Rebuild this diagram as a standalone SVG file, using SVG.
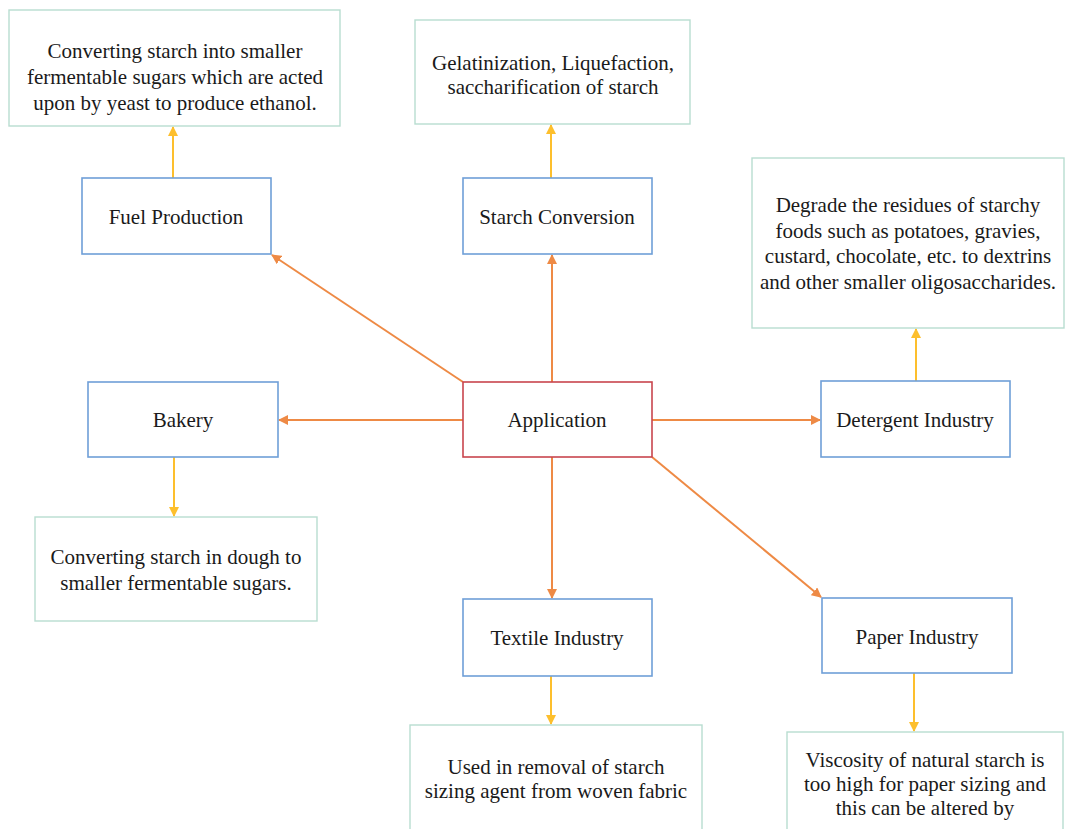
<svg xmlns="http://www.w3.org/2000/svg" width="1066" height="829" viewBox="0 0 1066 829">
<defs>
<style>
text{font-family:"Liberation Serif","Times New Roman",serif;font-size:21px;fill:#1a1a1a;text-anchor:middle}
.node{fill:#fff;stroke:#6f9fd8;stroke-width:1.6}
.app{fill:#fff;stroke:#c9454e;stroke-width:1.6}
.desc{fill:#fff;stroke:#b8ddd0;stroke-width:1.4}
.or{stroke:#ee8a45;stroke-width:2;fill:none;marker-end:url(#ao)}
.ye{stroke:#fdbf2d;stroke-width:2;fill:none;marker-end:url(#ay)}
</style>
<marker id="ao" viewBox="0 0 10 10" refX="9" refY="5" markerWidth="5" markerHeight="5" orient="auto" markerUnits="strokeWidth"><path d="M0,0L10,5L0,10z" fill="#ee8a45"/></marker>
<marker id="ay" viewBox="0 0 10 10" refX="9" refY="5" markerWidth="5" markerHeight="5" orient="auto" markerUnits="strokeWidth"><path d="M0,0L10,5L0,10z" fill="#fdbf2d"/></marker>
</defs>
<rect width="1066" height="829" fill="#fff"/>
<g id="connectors">
<line class="or" x1="463" y1="382" x2="272" y2="255"/>
<line class="or" x1="552" y1="382" x2="552" y2="255"/>
<line class="or" x1="463" y1="420" x2="279" y2="420"/>
<line class="or" x1="652" y1="420" x2="820" y2="420"/>
<line class="or" x1="552" y1="457" x2="552" y2="598"/>
<line class="or" x1="652" y1="457" x2="821" y2="597"/>
<line class="ye" x1="173" y1="178" x2="173" y2="127"/>
<line class="ye" x1="551" y1="178" x2="551" y2="125"/>
<line class="ye" x1="916" y1="381" x2="916" y2="329"/>
<line class="ye" x1="174" y1="457" x2="174" y2="516"/>
<line class="ye" x1="551" y1="676" x2="551" y2="724"/>
<line class="ye" x1="914" y1="673" x2="914" y2="731"/>
</g>
<g id="fuel-desc"><rect class="desc" x="9" y="10" width="331" height="116"/>
<text x="175" y="58">Converting starch into smaller</text>
<text x="175" y="84">fermentable sugars which are acted</text>
<text x="175" y="110">upon by yeast to produce ethanol.</text></g>
<g id="starch-desc"><rect class="desc" x="415" y="20" width="275" height="104"/>
<text x="553" y="70">Gelatinization, Liquefaction,</text>
<text x="553" y="94">saccharification of starch</text></g>
<g id="detergent-desc"><rect class="desc" x="752" y="158" width="312" height="170"/>
<text x="908" y="212">Degrade the residues of starchy</text>
<text x="908" y="237.5">foods such as potatoes, gravies,</text>
<text x="908" y="263">custard, chocolate, etc. to dextrins</text>
<text x="908" y="288.5">and other smaller oligosaccharides.</text></g>
<g id="bakery-desc"><rect class="desc" x="35" y="517" width="282" height="104"/>
<text x="176" y="564">Converting starch in dough to</text>
<text x="176" y="590">smaller fermentable sugars.</text></g>
<g id="textile-desc"><rect class="desc" x="410" y="725" width="292" height="110"/>
<text x="556" y="774">Used in removal of starch</text>
<text x="556" y="798">sizing agent from woven fabric</text></g>
<g id="paper-desc"><rect class="desc" x="787" y="732" width="276" height="110"/>
<text x="925" y="767">Viscosity of natural starch is</text>
<text x="925" y="791">too high for paper sizing and</text>
<text x="925" y="815">this can be altered by</text></g>
<g id="fuel"><rect class="node" x="82" y="178" width="189" height="76"/><text x="176" y="224">Fuel Production</text></g>
<g id="starch"><rect class="node" x="463" y="178" width="189" height="76"/><text x="557" y="224">Starch Conversion</text></g>
<g id="application"><rect class="app" x="463" y="382" width="189" height="75"/><text x="557" y="427">Application</text></g>
<g id="bakery"><rect class="node" x="88" y="382" width="190" height="75"/><text x="183" y="427">Bakery</text></g>
<g id="detergent"><rect class="node" x="821" y="381" width="189" height="76"/><text x="915" y="427">Detergent Industry</text></g>
<g id="textile"><rect class="node" x="463" y="599" width="189" height="77"/><text x="557" y="645">Textile Industry</text></g>
<g id="paper"><rect class="node" x="822" y="598" width="190" height="75"/><text x="917" y="644">Paper Industry</text></g>
</svg>
